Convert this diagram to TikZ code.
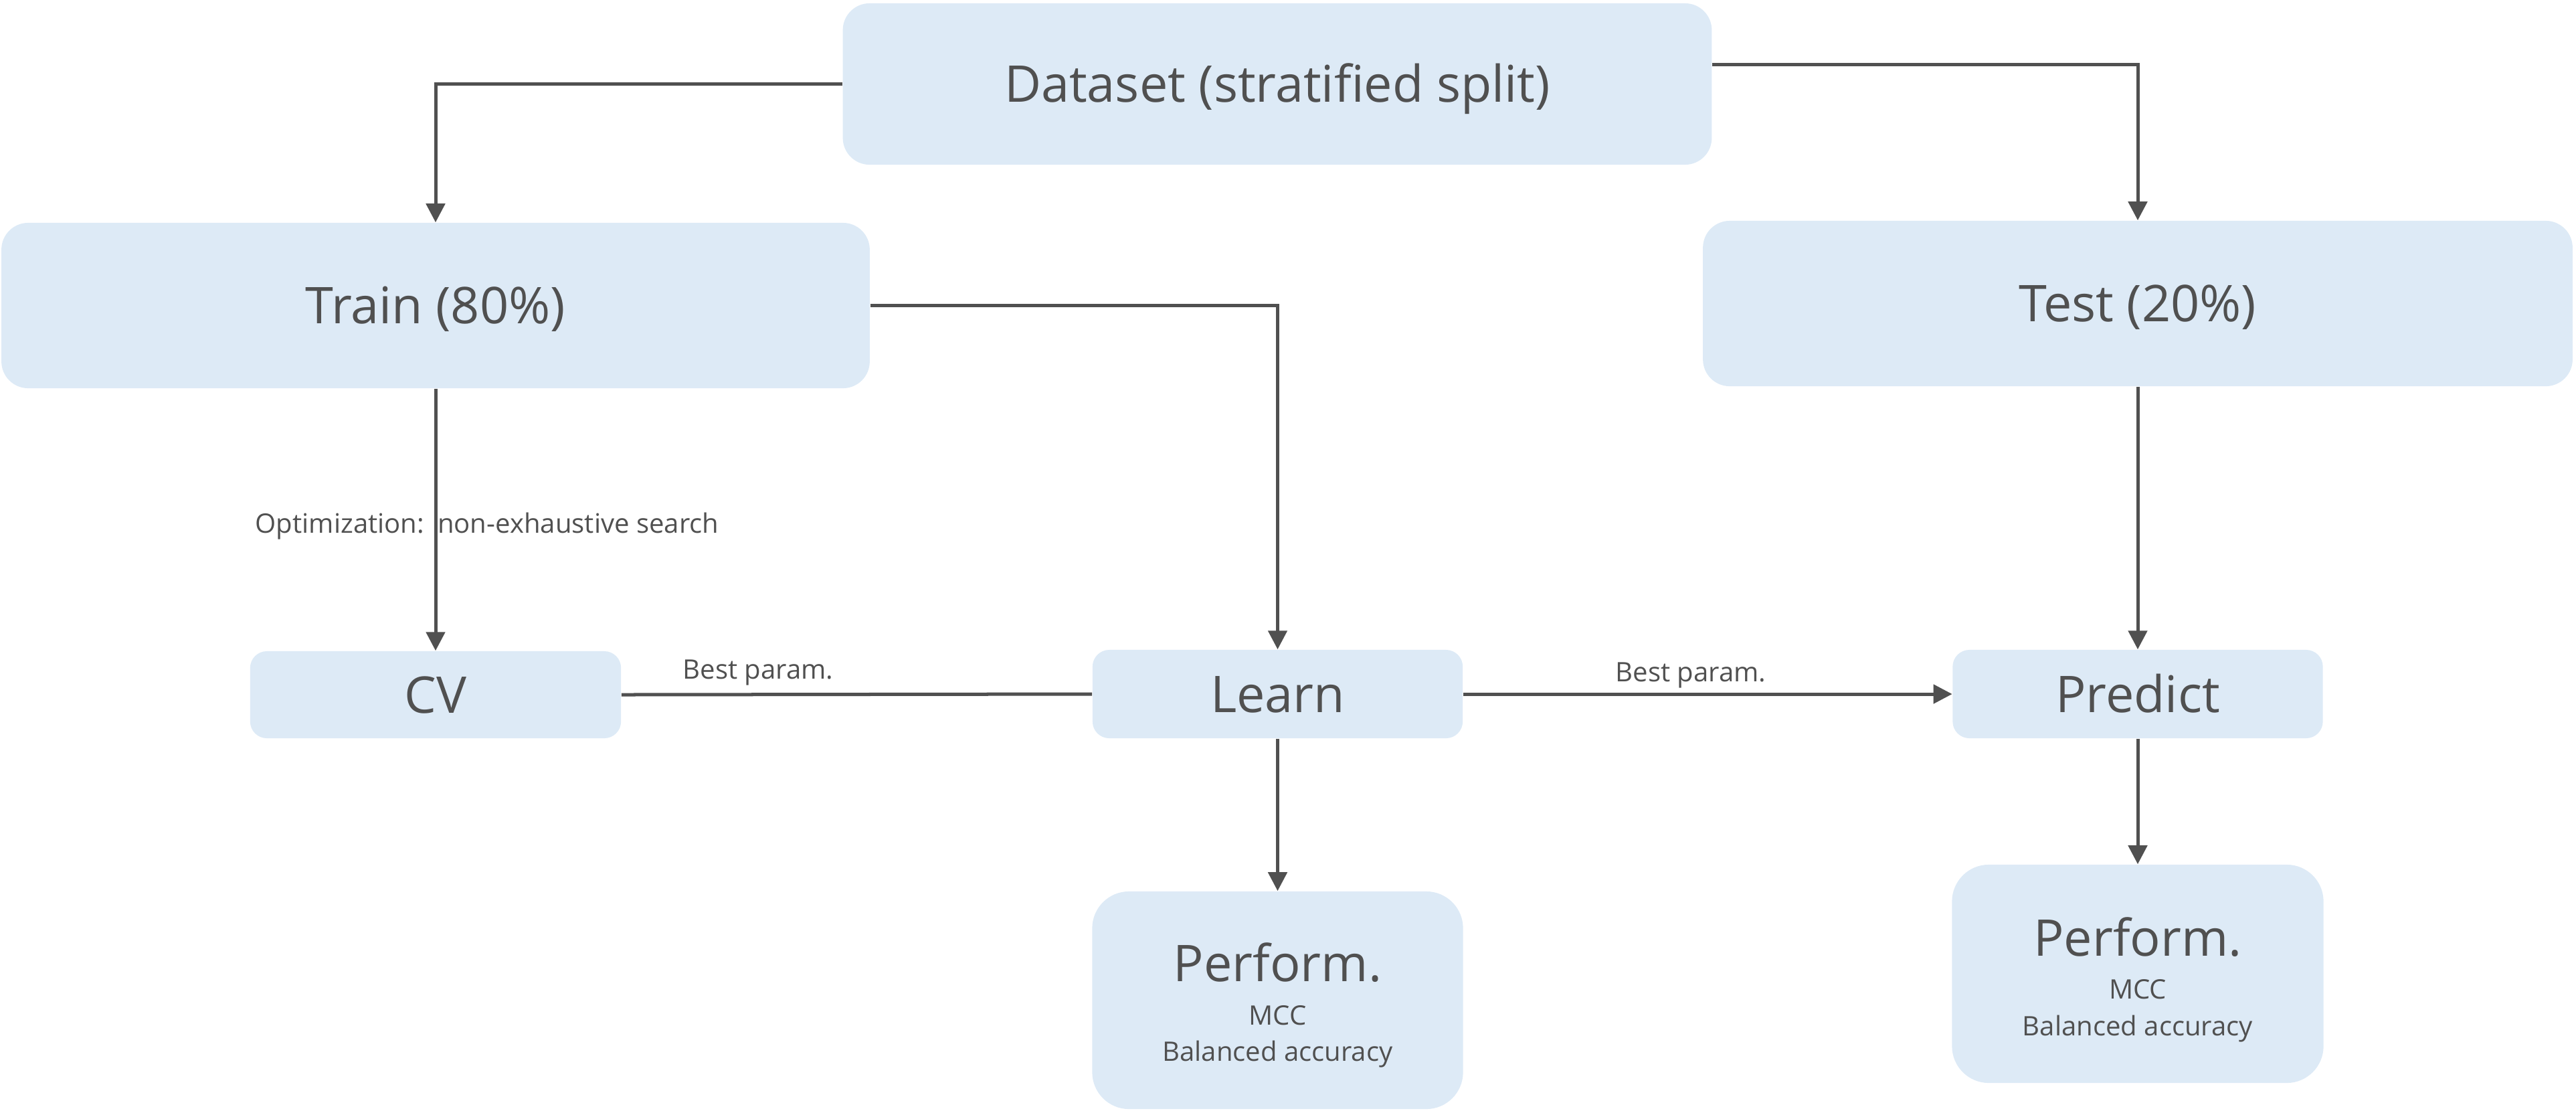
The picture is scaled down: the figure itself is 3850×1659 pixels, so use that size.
\documentclass[tikz,border=0pt]{standalone}
\usepackage{fontspec}
\setmainfont{Open Sans}
\usetikzlibrary{arrows.meta}
\definecolor{boxfill}{HTML}{DDEAF6}
\definecolor{ink}{HTML}{505050}
\begin{document}
\begin{tikzpicture}[x=0.01cm,y=-0.01cm,
  box/.style={fill=boxfill, draw=none, inner sep=0pt, text=ink,
    font=\fontsize{21.5}{24}\selectfont, text height=0.54cm, text depth=0pt},
  bigbox/.style={box, rounded corners=0.4cm},
  smallbox/.style={box, rounded corners=0.25cm},
  perfbox/.style={box, rounded corners=0.55cm},
  bigtxt/.style={text=ink, inner sep=0pt, anchor=base, font=\fontsize{21.5}{24}\selectfont},
  smalltxt/.style={text=ink, inner sep=0pt, anchor=base, font=\fontsize{11.4}{13}\selectfont},
  edgetxt/.style={text=ink, inner sep=0pt, font=\fontsize{11.4}{13}\selectfont, text height=0.28cm, text depth=0pt},
  conn/.style={draw=ink, line width=0.05cm},
  arr/.style={conn, -{Triangle[length=0.28cm, width=0.28cm]}}]
\useasboundingbox (0,0) rectangle (3850,1659);
% boxes
\node[bigbox, minimum width=12.98cm, minimum height=2.41cm] (dataset) at (1909,125.5) {Dataset (stratified split)};
\node[bigbox, minimum width=12.97cm, minimum height=2.47cm] (train) at (651,456.5) {Train (80\%)};
\node[bigbox, minimum width=12.99cm, minimum height=2.47cm] (test) at (3195,453.5) {Test (20\%)};
\node[smallbox, minimum width=5.54cm, minimum height=1.30cm] (cv) at (651,1038) {CV};
\node[smallbox, minimum width=5.53cm, minimum height=1.32cm] (learn) at (1909.5,1037) {Learn};
\node[smallbox, minimum width=5.53cm, minimum height=1.32cm] (predict) at (3195,1037) {Predict};
\node[perfbox, minimum width=5.54cm, minimum height=3.25cm] (perfL) at (1909.5,1494.5) {};
\node[perfbox, minimum width=5.55cm, minimum height=3.26cm] (perfR) at (3195,1455) {};
% texts in performance boxes
\node[bigtxt] (perfLa) at ([yshift=0.285cm]perfL.center) {Perform.};
\node[smalltxt] (perfLb) at ([yshift=-0.365cm]perfL.center) {MCC};
\node[smalltxt] (perfLc) at ([yshift=-0.905cm]perfL.center) {Balanced accuracy};
\node[bigtxt] (perfRa) at ([yshift=0.27cm]perfR.center) {Perform.};
\node[smalltxt] (perfRb) at ([yshift=-0.37cm]perfR.center) {MCC};
\node[smalltxt] (perfRc) at ([yshift=-0.92cm]perfR.center) {Balanced accuracy};
% connectors
\draw[arr] (dataset.west) -| (train.north);
\draw[arr] ([yshift=0.295cm]dataset.east) -| (test.north);
\draw[arr] (train.east) -| (learn.north);
\draw[arr] (train.south) -- (cv.north);
\draw[conn] (cv.east) -- (learn.west);
\draw[arr] (learn.east) -- (predict.west);
\draw[arr] (learn.south) -- (perfL.north);
\draw[arr] (test.south) -- (predict.north);
\draw[arr] (predict.south) -- (perfR.north);
% edge labels
\node[edgetxt] (optlbl) at (728,782) {Optimization:\hspace{0.5em}non-exhaustive search};
\node[edgetxt] (bp1) at (1133,1000) {Best param.};
\node[edgetxt] (bp2) at (2527,1004) {Best param.};
\end{tikzpicture}
\end{document}
